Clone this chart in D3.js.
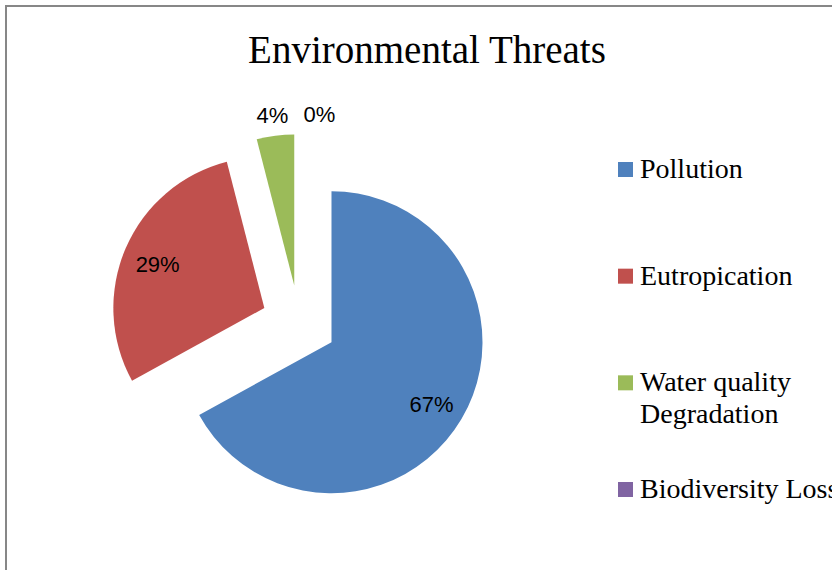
<!DOCTYPE html>
<html>
<head>
<meta charset="utf-8">
<script src="https://cdn.jsdelivr.net/npm/d3@7"></script>
<style>
  body { margin: 0; background: #fff; }
</style>
</head>
<body>
<div id="chart"></div>
<script>
// chart data
const title = "Environmental Threats";
const categories = ["Pollution", "Eutropication", "Water quality Degradation", "Biodiversity Loss"];
const legendLines = [["Pollution"], ["Eutropication"], ["Water quality", "Degradation"], ["Biodiversity Loss"]];
const values = [67, 29, 4, 0];
const colors = ["#4F81BD", "#C0504D", "#9BBB59", "#8064A2"];

const width = 832, height = 570;
const cx = 299, cy = 323, radius = 151;
const explode = 0.25 * radius;

const svg = d3.select("#chart").append("svg")
    .attr("width", width)
    .attr("height", height);

// chart area border (runs off the right / bottom edge)
svg.append("rect")
    .attr("x", 6)
    .attr("y", 6)
    .attr("width", width + 20)
    .attr("height", height + 20)
    .attr("fill", "none")
    .attr("stroke", "#878787")
    .attr("stroke-width", 2);

svg.append("text")
    .attr("x", 427)
    .attr("y", 63)
    .attr("text-anchor", "middle")
    .style("font-family", "'Liberation Serif', serif")
    .style("font-size", "39px")
    .attr("fill", "#000")
    .text(title);

const total = d3.sum(values);
const pie = d3.pie().sort(null).value(d => d);
const arcs = pie(values);
const arc = d3.arc().innerRadius(0).outerRadius(radius);

// direction of a slice's bisector (0 = 12 o'clock, clockwise)
const dir = d => {
  const a = (d.startAngle + d.endAngle) / 2;
  return [Math.sin(a), -Math.cos(a)];
};

const body = svg.append("g")
    .attr("transform", "translate(" + cx + "," + cy + ")");

const slice = body.selectAll("g.slice")
    .data(arcs)
    .enter()
    .append("g")
    .attr("class", "slice")
    .attr("transform", d => {
      const [dx, dy] = dir(d);
      return "translate(" + dx * explode + "," + dy * explode + ")";
    });

slice.append("path")
    .attr("d", arc)
    .attr("fill", (d, i) => colors[i]);

// data labels: inside for big slices, outside end for small ones
const fmt = d3.format(".0%");
const labels = arcs.map((d, i) => {
  const [dx, dy] = dir(d);
  const share = d.data / total;
  const r = share < 0.1 ? radius * 1.15 : radius * 0.77;
  return {
    text: fmt(share),
    x: dx * (explode + r),
    y: dy * (explode + r),
    outside: share < 0.1
  };
});

const labelText = body.selectAll("text.label")
    .data(labels)
    .enter()
    .append("text")
    .attr("class", "label")
    .attr("text-anchor", "middle")
    .attr("dominant-baseline", "central")
    .attr("dy", "0.12em")
    .style("font-family", "'Liberation Sans', Arial, sans-serif")
    .style("font-size", "22px")
    .attr("fill", "#000")
    .text(d => d.text);

// push overlapping outside labels to the right
let prevRight = null;
labelText.each(function(d) {
  const w = this.getComputedTextLength();
  if (d.outside) {
    if (prevRight !== null && d.x - w / 2 < prevRight + 15) {
      d.x = prevRight + 15 + w / 2;
    }
    prevRight = d.x + w / 2;
  }
});
labelText
    .attr("x", d => d.x)
    .attr("y", d => d.y);

// legend
const legendY = d3.scaleLinear().domain([0, categories.length - 1]).range([178, 498]);
const legend = svg.selectAll("g.legend")
    .data(categories)
    .enter()
    .append("g")
    .attr("class", "legend")
    .attr("transform", (d, i) => "translate(618," + legendY(i) + ")");

legend.append("rect")
    .attr("x", 0)
    .attr("y", -16)
    .attr("width", 15)
    .attr("height", 15)
    .attr("fill", (d, i) => colors[i]);

legend.append("text")
    .attr("x", 22)
    .attr("y", 0)
    .style("font-family", "'Liberation Serif', serif")
    .style("font-size", "28px")
    .attr("fill", "#000")
    .each(function(d, i) {
      d3.select(this).selectAll("tspan")
          .data(legendLines[i])
          .enter()
          .append("tspan")
          .attr("x", 22)
          .attr("dy", (t, j) => j === 0 ? 0 : 32)
          .text(t => t);
    });
</script>
</body>
</html>
